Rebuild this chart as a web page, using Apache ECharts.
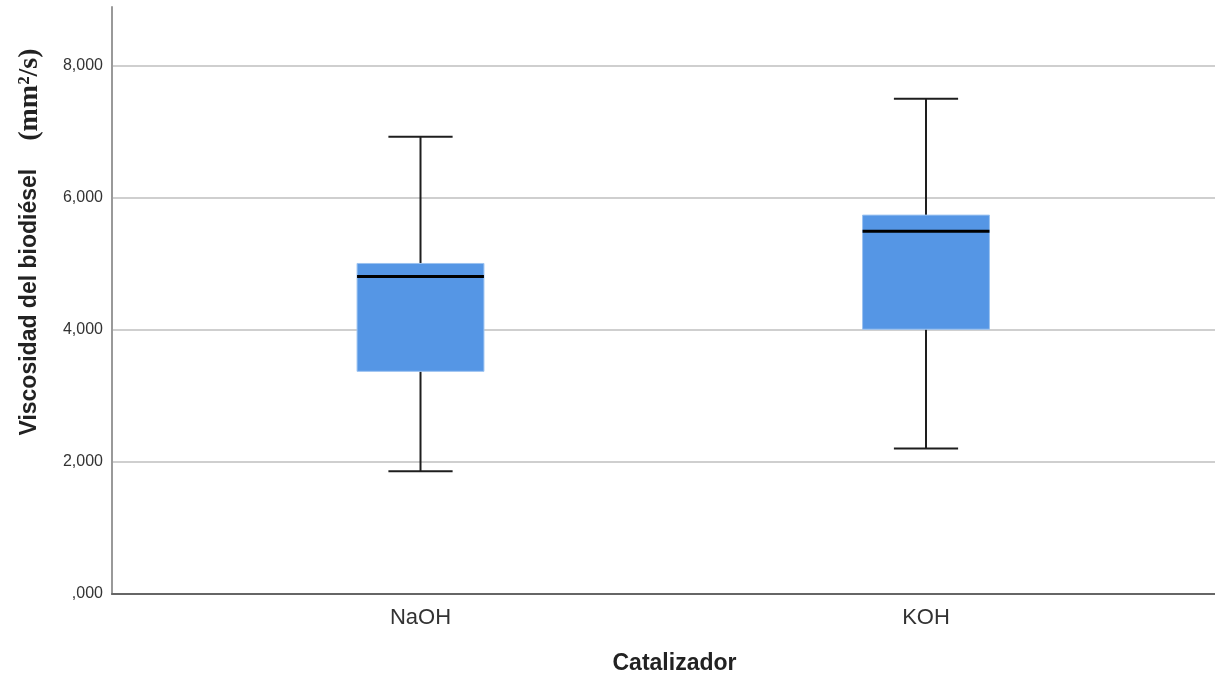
<!DOCTYPE html>
<html>
<head>
<meta charset="utf-8">
<script src="https://cdn.jsdelivr.net/npm/echarts@6/dist/echarts.min.js"></script>
<style>html,body{margin:0;padding:0;background:#fff;}#c{width:1215px;height:680px;}</style>
</head>
<body>
<div id="c"></div>
<script>
const categories = ['NaOH', 'KOH'];
const mins    = [1.860, 2.203];
const q1s     = [3.372, 4.010];
const medians = [4.809, 5.494];
const q3s     = [5.006, 5.738];
const maxs    = [6.926, 7.501];
const yTicks  = [0, 2, 4, 6, 8];

const data = categories.map((c, i) => [i, mins[i], q1s[i], medians[i], q3s[i], maxs[i]]);

function fmt(v) {
  const s = v.toFixed(3).replace('.', ',');
  return s.startsWith('0,') ? s.slice(1) : s;
}

const chart = echarts.init(document.getElementById('c'), null, {renderer: 'canvas'});
chart.setOption({
  animation: false,
  grid: {left: 112, right: 0, top: 7, bottom: 85, containLabel: false},
  xAxis: {
    type: 'value',
    min: -0.6103,
    max: 1.5717,
    name: 'Catalizador',
    nameLocation: 'middle',
    nameGap: 58,
    nameTextStyle: {fontFamily: 'Liberation Sans', fontWeight: 'bold', fontSize: 23, color: '#222', padding: [0, 0, 0, 22]},
    axisLine: {show: true, onZero: false, lineStyle: {color: '#666', width: 2}},
    axisTick: {show: false},
    splitLine: {show: false},
    axisLabel: {
      customValues: [0, 1],
      formatter: v => categories[Math.round(v)],
      fontFamily: 'Liberation Sans', fontSize: 22, color: '#333', margin: 13
    }
  },
  yAxis: {
    type: 'value',
    min: 0,
    max: 8.89,
    interval: 2,
    name: '{a|Viscosidad del biodiésel}{b|    (mm²/s)}',
    nameLocation: 'middle',
    nameGap: 68,
    nameRotate: 90,
    nameTextStyle: {
      padding: [0, 0, 0, 117],
      rich: {
        a: {fontFamily: 'Liberation Sans', fontWeight: 'bold', fontSize: 23, color: '#222'},
        b: {fontFamily: 'Liberation Serif', fontWeight: 'bold', fontSize: 28, color: '#222'}
      }
    },
    axisLine: {show: true, onZero: false, lineStyle: {color: '#999', width: 2}},
    axisTick: {show: false},
    splitLine: {show: true, showMaxLine: false, showMinLine: false, lineStyle: {color: '#cfcfcf', width: 2}},
    axisLabel: {
      customValues: yTicks,
      formatter: v => fmt(v),
      fontFamily: 'Liberation Sans', fontSize: 16, color: '#333', margin: 9
    }
  },
  series: [{
    type: 'custom',
    data: data,
    encode: {x: 0, y: [1, 2, 3, 4, 5]},
    renderItem: function (params, api) {
      const x = api.value(0);
      const boxW = api.size([0.251, 0])[0];
      const capW = api.size([0.127, 0])[0];
      const pMin = api.coord([x, api.value(1)]);
      const pQ1 = api.coord([x, api.value(2)]);
      const pMed = api.coord([x, api.value(3)]);
      const pQ3 = api.coord([x, api.value(4)]);
      const pMax = api.coord([x, api.value(5)]);
      const cx = pMin[0];
      const wStyle = {stroke: '#1e1e1e', lineWidth: 2};
      return {
        type: 'group',
        children: [
          {type: 'line', shape: {x1: cx, y1: pMax[1], x2: cx, y2: pQ3[1]}, style: wStyle},
          {type: 'line', shape: {x1: cx, y1: pQ1[1], x2: cx, y2: pMin[1]}, style: wStyle},
          {type: 'line', shape: {x1: cx - capW / 2, y1: pMax[1], x2: cx + capW / 2, y2: pMax[1]}, style: wStyle},
          {type: 'line', shape: {x1: cx - capW / 2, y1: pMin[1], x2: cx + capW / 2, y2: pMin[1]}, style: wStyle},
          {type: 'rect', shape: {x: cx - boxW / 2, y: pQ3[1], width: boxW, height: pQ1[1] - pQ3[1]},
           style: {fill: '#5596E5', stroke: '#9cc3f1', lineWidth: 1}},
          {type: 'line', shape: {x1: cx - boxW / 2, y1: pMed[1], x2: cx + boxW / 2, y2: pMed[1]},
           style: {stroke: '#000', lineWidth: 3}}
        ]
      };
    }
  }]
});
</script>
</body>
</html>
